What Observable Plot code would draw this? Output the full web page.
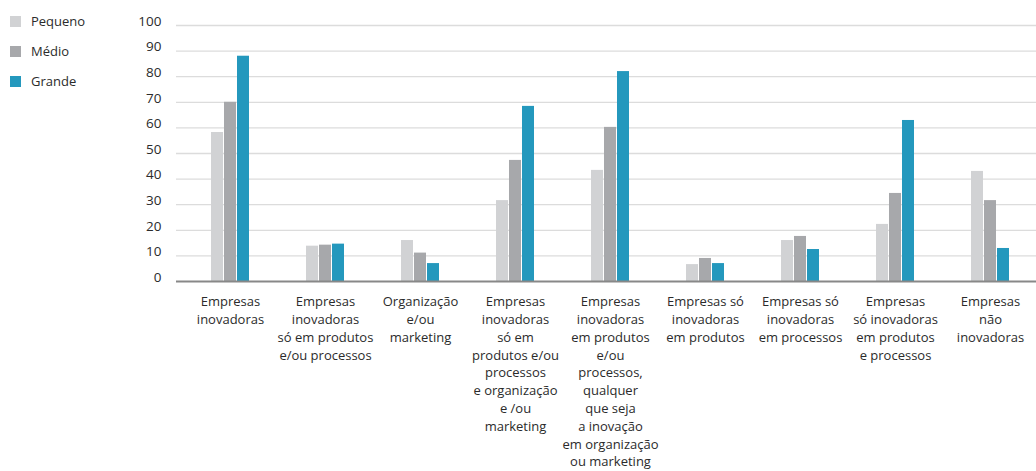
<!DOCTYPE html>
<html>
<head>
<meta charset="utf-8">
<script src="https://cdn.jsdelivr.net/npm/d3@7"></script>
<script src="https://cdn.jsdelivr.net/npm/@observablehq/plot@0.6"></script>
<style>
  html, body { margin: 0; padding: 0; background: #fff; overflow: hidden; }
  #wrap { position: relative; width: 1036px; height: 471px; font-family: "Open Sans", sans-serif; color: #2b2b2b; }
  #legend { position: absolute; left: 10px; top: 6px; font-size: 13px; }
  .item { display: flex; align-items: center; height: 30px; }
  .sw { width: 11px; height: 11px; margin-right: 10px; }
</style>
</head>
<body>
<div id="wrap"><div id="legend"></div></div>
<script>
const categories = [
  "Empresas\ninovadoras",
  "Empresas\ninovadoras\nsó em produtos\ne/ou processos",
  "Organização\ne/ou\nmarketing",
  "Empresas\ninovadoras\nsó em\nprodutos e/ou\nprocessos\ne organização\ne /ou\nmarketing",
  "Empresas\ninovadoras\nem produtos\ne/ou\nprocessos,\nqualquer\nque seja\na inovação\nem organização\nou marketing",
  "Empresas só\ninovadoras\nem produtos",
  "Empresas só\ninovadoras\nem processos",
  "Empresas\nsó inovadoras\nem produtos\ne processos",
  "Empresas\nnão\ninovadoras"
];
const seriesNames = ["Pequeno", "Médio", "Grande"];
const pequeno = [58.2, 13.8, 16.0, 31.6, 43.4, 6.6, 16.0, 22.3, 43.0];
const medio   = [70.0, 14.2, 11.1, 47.3, 60.2, 9.0, 17.6, 34.4, 31.6];
const grande  = [88.0, 14.6, 7.0, 68.4, 82.0, 7.0, 12.5, 62.9, 12.9];
const yTicks = [0, 10, 20, 30, 40, 50, 60, 70, 80, 90, 100];
const colors = ["#d1d2d4", "#a7a8ab", "#2498bd"];

const seriesValues = [pequeno, medio, grande];
const rows = [];
seriesNames.forEach((s, si) => categories.forEach((c, ci) => rows.push({category: c, series: s, value: seriesValues[si][ci]})));
const offsets = [-13, 0, 13];

const barMarks = seriesNames.map((s, si) =>
  Plot.barY(rows.filter(d => d.series === s), {x: "category", y: "value", fill: colors[si], dx: offsets[si]})
);

const chart = Plot.plot({
  width: 1036,
  height: 471,
  marginLeft: 176,
  marginRight: 0,
  marginTop: 25,
  marginBottom: 190,
  style: {fontFamily: "Open Sans", fontSize: "13px", color: "#2b2b2b", background: "transparent"},
  x: {domain: categories, range: [137.2, 1083.2], padding: 0.875, label: null},
  y: {domain: [0, 100], label: null},
  marks: [
    Plot.ruleY(yTicks.filter(t => t > 0), {stroke: "#dcdcdc", strokeWidth: 1.3}),
    ...barMarks,
    Plot.ruleY([0], {stroke: "#888", strokeWidth: 2}),
    Plot.axisY({ticks: yTicks, tickSize: 0, tickPadding: 15, dy: -4, fill: "#2b2b2b", fontSize: 13.5}),
    Plot.axisX({tickSize: 0, tickPadding: 12, lineHeight: 1.37, fill: "#2b2b2b", fontSize: 13})
  ]
});
document.getElementById("wrap").appendChild(chart);

const legend = document.getElementById("legend");
seriesNames.forEach((s, i) => {
  const item = document.createElement("div");
  item.className = "item";
  const sw = document.createElement("div");
  sw.className = "sw";
  sw.style.background = colors[i];
  const t = document.createElement("span");
  t.textContent = s;
  item.appendChild(sw);
  item.appendChild(t);
  legend.appendChild(item);
});
</script>
</body>
</html>
